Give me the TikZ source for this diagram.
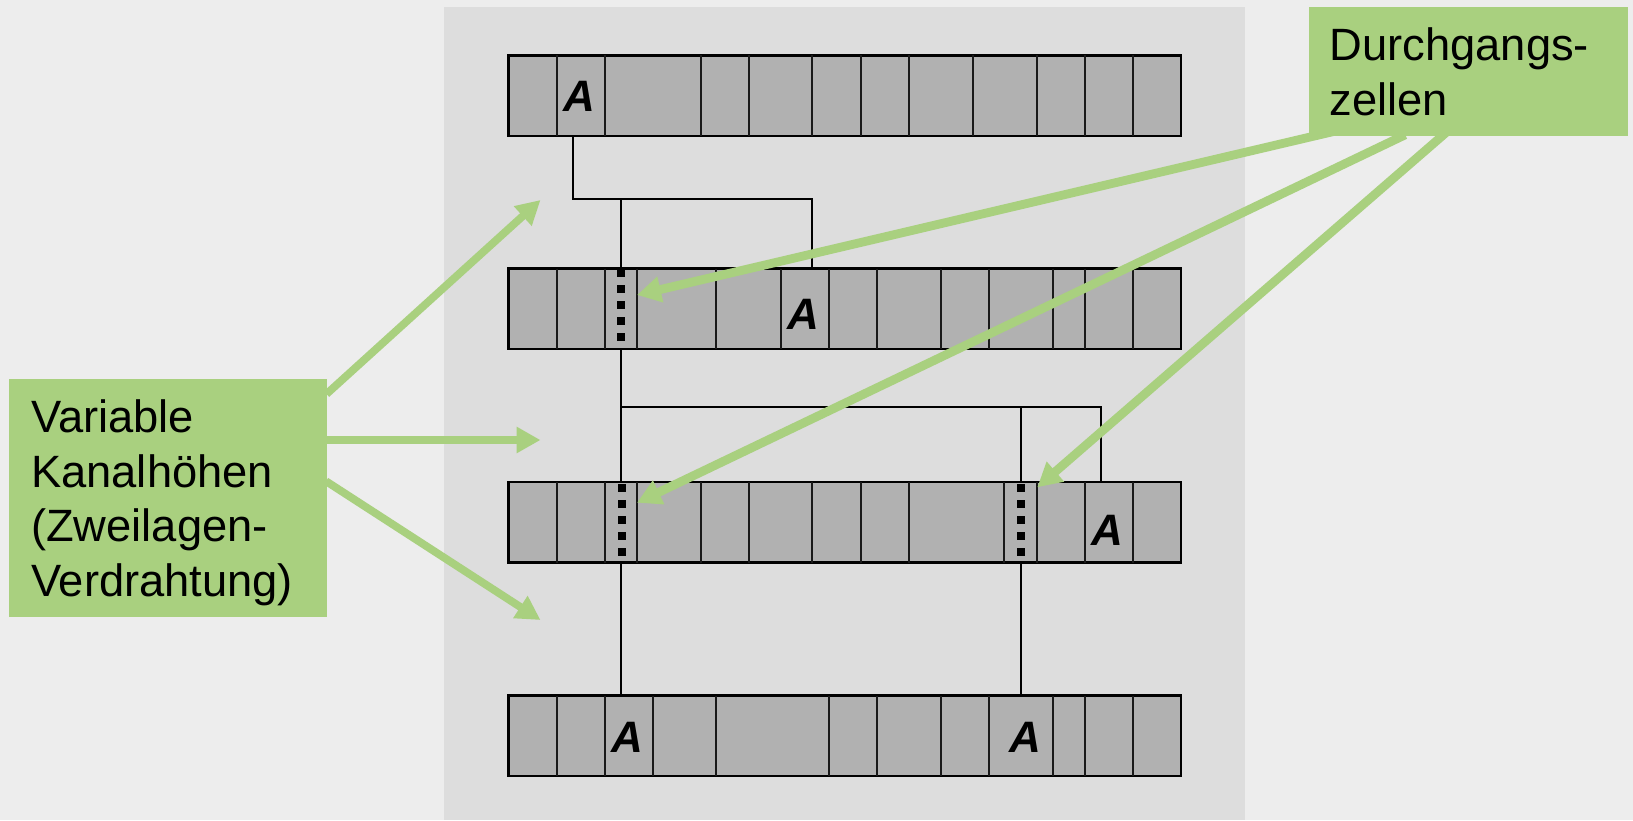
\documentclass[tikz,border=0pt]{standalone}
\usepackage{fontspec}
\setmainfont{Liberation Sans}
\usetikzlibrary{arrows.meta,calc}
\definecolor{bgc}{HTML}{EDEDED}
\definecolor{panelc}{HTML}{DDDDDD}
\definecolor{cellc}{HTML}{B1B1B1}
\definecolor{greenc}{HTML}{A9D07F}
\tikzset{
  rowbox/.style={draw=black,line width=2.6pt,fill=cellc,minimum width=672.6pt,minimum height=80.4pt,inner sep=0pt,outer sep=0pt,anchor=north west},
  cellline/.style={draw=black!90,line width=2pt},
  wire/.style={draw=black,line width=2pt},
  via/.style={draw=black,line width=8pt,dash pattern=on 7.6pt off 8.4pt},
  greenarrow/.style={draw=greenc,line width=7.8pt,-{Triangle[length=24pt,width=25pt]}},
  greenarrowwide/.style={greenarrow,line width=8.8pt},
  callout/.style={fill=greenc,inner sep=0pt,outer sep=0pt,anchor=north west},
  celltext/.style={font=\fontsize{44}{44}\selectfont\bfseries\itshape,inner sep=0pt,anchor=base},
  calltext/.style={font=\fontsize{45.3}{54.4}\selectfont,inner sep=0pt,anchor=base west,align=left}
}
\begin{document}
\begin{tikzpicture}[x=1pt,y=-1pt]
\useasboundingbox (0,0) rectangle (1633,820);
\fill[bgc] (0,0) rectangle (1633,820);
\fill[panelc] (444,7) rectangle (1245,820);
% rows
\node[rowbox] (r1) at (508.4,55.4) {};
\node[rowbox] (r2) at (508.4,268.6) {};
\node[rowbox] (r3) at (508.4,482.1) {};
\node[rowbox] (r4) at (508.4,695.6) {};
\foreach \x in {557,604.8,701.2,749,812.3,860.5,908.7,973,1036.8,1085,1132.8}
  \draw[cellline] (\x,55.4) -- (\x,135.8);
\foreach \x in {557,604.8,636.5,716.4,780.6,828.8,877,940.9,989,1052.9,1084.6,1132.8}
  \draw[cellline] (\x,268.6) -- (\x,349);
\foreach \x in {557,604.8,636.5,701.2,749,812.3,860.5,908.7,1004.2,1036.8,1085,1132.8}
  \draw[cellline] (\x,482.1) -- (\x,562.5);
\foreach \x in {557,604.8,652.5,716.4,828.8,877,940.9,989,1052.9,1084.6,1132.8}
  \draw[cellline] (\x,695.6) -- (\x,776);
% wires
\coordinate (ja) at (572.6,199.3);
\coordinate (jb) at (621,199.3);
\coordinate (jc) at (812.4,199.3);
\coordinate (jd) at (621,406.7);
\coordinate (je) at (1021.2,406.7);
\coordinate (jf) at (1100.6,406.7);
\draw[wire] (r1.south -| ja) -- (ja) -- (jc) -- (r2.north -| jc);
\draw[wire] (jb) -- (r2.north -| jb);
\draw[wire] (r2.south -| jd) -- (r3.north -| jd);
\draw[wire] (jd) -- (jf) -- (r3.north -| jf);
\draw[wire] (je) -- (r3.north -| je);
\draw[wire] (r3.south -| jd) -- (r4.north -| jd);
\draw[wire] (r3.south -| je) -- (r4.north -| je);
% vias
\coordinate (v1) at (620.8,269);
\coordinate (v2) at (622,484);
\coordinate (v3) at (1021.2,484);
\draw[via] (v1) -- ++(0,76);
\draw[via] (v2) -- ++(0,76);
\draw[via] (v3) -- ++(0,76);
% cell labels
\node[celltext] (a1) at (579,111.7) {A};
\node[celltext] (a2) at (803,329) {A};
\node[celltext] (a3) at (1107,545) {A};
\node[celltext] (a4) at (627,752.7) {A};
\node[celltext] (a5) at (1025.4,752.7) {A};
% arrows
\coordinate (s1) at (326.5,394);
\coordinate (s2) at (326,440);
\coordinate (s3) at (326,481.2);
\coordinate (t1) at (540.5,200);
\coordinate (t2) at (540.5,440);
\coordinate (t3) at (540.5,620);
\coordinate (s4) at (1340,130);
\coordinate (s5) at (1405.2,134.8);
\coordinate (s6) at (1449,130);
\coordinate (t4) at (637,295);
\coordinate (t5) at (637,502.7);
\coordinate (t6) at (1037.3,487.3);
\draw[greenarrow] (s1) -- (t1);
\draw[greenarrow] (s2) -- (t2);
\draw[greenarrow] (s3) -- (t3);
\draw[greenarrowwide] (s4) -- (t4);
\draw[greenarrowwide] (s5) -- (t5);
\draw[greenarrowwide] (s6) -- (t6);
% callouts
\node[callout,minimum width=318pt,minimum height=237.7pt] (kanal) at (9,379) {};
\node[callout,minimum width=319pt,minimum height=129pt] (durch) at (1309,7) {};
\node[calltext] (k1) at (31,432.7) {Variable};
\node[calltext] (k2) at (31,487.2) {Kanalhöhen};
\node[calltext] (k3) at (31,541.7) {(Zweilagen-};
\node[calltext] (k4) at (31,596) {Verdrahtung)};
\node[calltext] (d1) at (1329.5,60.7) {Durchgangs-};
\node[calltext] (d2) at (1329.5,115.1) {zellen};
\end{tikzpicture}
\end{document}
